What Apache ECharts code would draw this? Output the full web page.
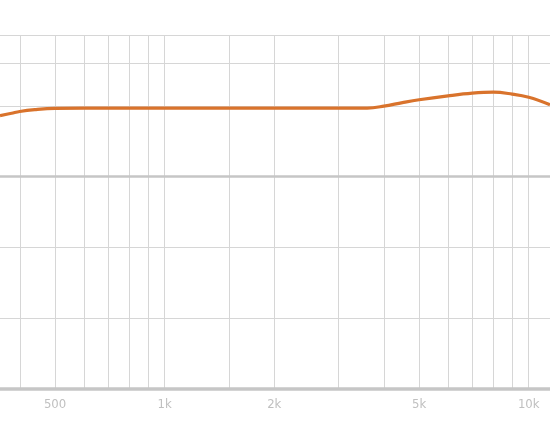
<!DOCTYPE html>
<html lang="en">
<head>
    <meta charset="UTF-8">
    <title>Frequency response</title>
    <script src="https://cdn.jsdelivr.net/npm/echarts@6/dist/echarts.min.js"></script>
    <style>
        html, body { margin: 0; padding: 0; background: #fff; }
        #main { width: 550px; height: 445px; }
    </style>
</head>
<body>
<div id="main"></div>
<script>
// frequency in Hz, level in dB
var freqs = [353, 380, 400, 440, 500, 600, 800, 1000, 2000, 3000, 3600, 4000, 4500, 5000, 6000, 7000, 8000, 9000, 10000, 11440];
var levels = [8.6, 8.95, 9.2, 9.45, 9.63, 9.66, 9.66, 9.66, 9.66, 9.66, 9.68, 9.95, 10.45, 10.85, 11.4, 11.78, 11.92, 11.65, 11.2, 10.15];

// grid lines and labels
var xGrid = [400, 500, 600, 700, 800, 900, 1000, 1500, 2000, 3000, 4000, 5000, 6000, 7000, 8000, 9000, 10000];
var xLabels = [500, 1000, 2000, 5000, 10000];
var yGrid = [-30, -20, -10, 0, 10, 16, 20];

var points = [];
for (var i = 0; i < freqs.length; i++) {
    points.push([freqs[i], levels[i]]);
}

var myChart = echarts.init(document.getElementById('main'));

var option = {
    animation: false,
    grid: { left: 0, right: 0, top: 35, bottom: 56 },
    xAxis: {
        type: 'log',
        logBase: 10,
        min: 353,
        max: 11440,
        axisLine: { show: true, onZero: false, lineStyle: { color: '#c6c6c6', width: 3.5 } },
        axisTick: { show: false, customValues: xGrid },
        axisLabel: {
            customValues: xLabels,
            margin: 9,
            color: '#c0c0c0',
            fontSize: 13,
            fontFamily: "'Liberation Sans Narrow', 'DejaVu Sans Condensed', sans-serif",
            formatter: function (v) {
                return v >= 1000 ? (v / 1000) + 'k' : String(v);
            }
        },
        splitLine: { show: true, lineStyle: { color: '#d6d6d6', width: 1 } }
    },
    yAxis: {
        type: 'value',
        min: -30,
        max: 20,
        axisLine: { show: false },
        axisTick: { show: false, customValues: yGrid },
        axisLabel: { show: false },
        splitLine: { show: true, lineStyle: { color: '#d6d6d6', width: 1 } }
    },
    series: [
        {
            type: 'line',
            data: points,
            smooth: 0.4,
            symbol: 'none',
            lineStyle: { color: '#d9732c', width: 3.2 },
            markLine: {
                silent: true,
                symbol: 'none',
                label: { show: false },
                lineStyle: { color: '#c6c6c6', width: 2.5, type: 'solid' },
                data: [{ yAxis: 0 }]
            },
            z: 3
        }
    ]
};

myChart.setOption(option);
</script>
</body>
</html>
